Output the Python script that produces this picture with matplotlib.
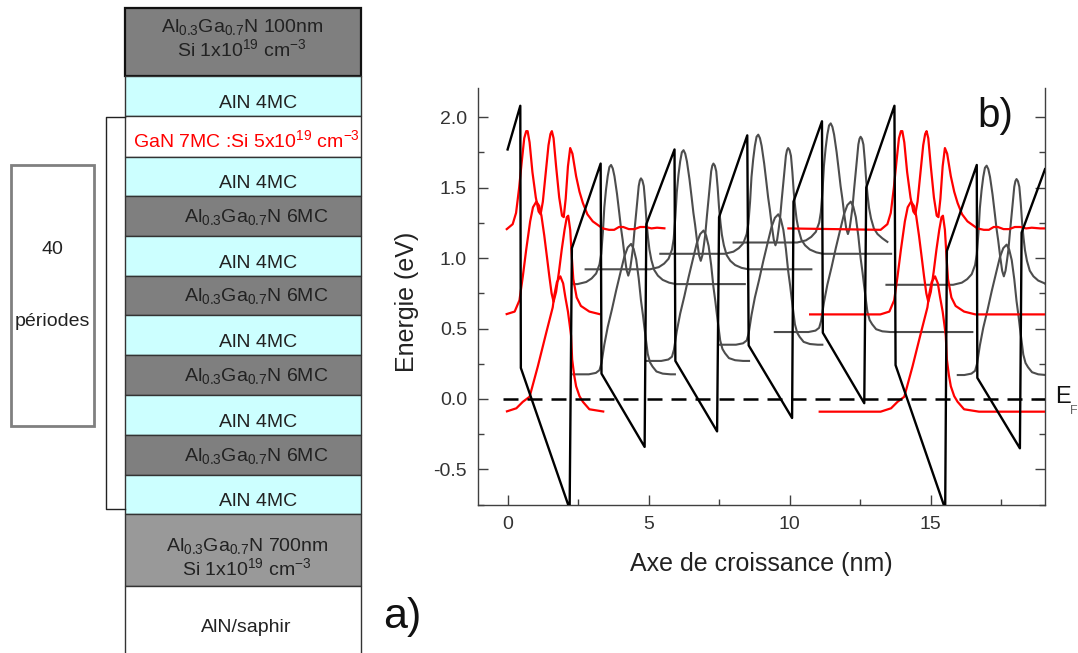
import numpy as np
import matplotlib
matplotlib.use('Agg')
import matplotlib.pyplot as plt
from matplotlib.patches import Rectangle
from matplotlib.ticker import MultipleLocator, FuncFormatter

plt.rcParams['font.family'] = ['Liberation Sans', 'DejaVu Sans']
plt.rcParams['mathtext.fontset'] = 'custom'
plt.rcParams['mathtext.rm'] = 'Liberation Sans'
plt.rcParams['mathtext.it'] = 'Liberation Sans:italic'
plt.rcParams['mathtext.bf'] = 'Liberation Sans:bold'
plt.rcParams['axes.unicode_minus'] = False

# ---------------- data: panel a (layer stack, top -> bottom) ----------------
layer_labels = [
    ['Al$_{0.3}$Ga$_{0.7}$N 100nm', 'Si 1x10$^{19}$ cm$^{-3}$'],
    ['AlN 4MC'],
    ['GaN 7MC :Si 5x10$^{19}$ cm$^{-3}$'],
    ['AlN 4MC'],
    ['Al$_{0.3}$Ga$_{0.7}$N 6MC'],
    ['AlN 4MC'],
    ['Al$_{0.3}$Ga$_{0.7}$N 6MC'],
    ['AlN 4MC'],
    ['Al$_{0.3}$Ga$_{0.7}$N 6MC'],
    ['AlN 4MC'],
    ['Al$_{0.3}$Ga$_{0.7}$N 6MC'],
    ['AlN 4MC'],
    ['Al$_{0.3}$Ga$_{0.7}$N 700nm', 'Si 1x10$^{19}$ cm$^{-3}$'],
    ['AlN/saphir'],
]
layer_kinds = ['cap', 'aln', 'gan', 'aln', 'algan', 'aln', 'algan', 'aln',
               'algan', 'aln', 'algan', 'aln', 'buffer', 'sub']
period_count = '40'
period_word = 'périodes'

# ---------------- data: panel b (conduction band profile) ----------------
band_x = [0.0, 0.45, 0.47, 2.20, 2.28, 3.30, 3.33, 4.86, 4.92, 5.92, 5.95, 7.43,
          7.50, 8.50, 8.55, 10.09, 10.14, 11.15, 11.18, 12.65, 12.72, 13.72,
          13.76, 15.52, 15.58, 16.64, 16.66, 18.17, 18.23, 19.06]
band_y = [1.77, 2.08, 0.22, -0.78, 1.07, 1.67, 0.18, -0.34, 1.24, 1.77, 0.27, -0.23,
          1.29, 1.87, 0.38, -0.135, 1.40, 1.97, 0.47, -0.03, 1.50, 2.08,
          0.24, -0.78, 1.05, 1.66, 0.15, -0.35, 1.18, 1.63]
fermi_x = [-0.15, 19.06]
fermi_y = [0.0, 0.0]

# GaN-well states (red), traced in the first well
red_E = [-0.09, 0.60, 1.21]
red_L1_x = [-0.06, 0.31, 0.54, 0.78, 1.07, 1.37, 1.6, 1.66, 1.75, 1.87, 1.97, 2.05,
            2.14, 2.2, 2.25, 2.29, 2.36, 2.43, 2.55, 2.67, 2.9, 3.43]
red_L1_y = [-0.09, -0.066, -0.02, 0.016, 0.23, 0.47, 0.65, 0.74, 0.83, 0.87, 0.82, 0.72,
            0.62, 0.53, 0.45, 0.28, 0.17, 0.09, 0.02, -0.02, -0.073, -0.09]
red_L2_x = [-0.07, 0.25, 0.42, 0.54, 0.66, 0.8, 0.9, 1.02, 1.12, 1.2, 1.3, 1.4, 1.48,
            1.56, 1.63, 1.72, 1.82, 1.92, 2.02, 2.1, 2.15, 2.22, 2.28, 2.33, 2.45,
            2.6, 2.9, 3.3]
red_L2_y = [0.60, 0.62, 0.70, 0.87, 1.06, 1.26, 1.36, 1.40, 1.37, 1.30, 1.16, 1.00, 0.87,
            0.75, 0.69, 0.76, 0.90, 1.06, 1.20, 1.29, 1.30, 1.20, 1.00, 0.85, 0.72,
            0.66, 0.62, 0.60]
red_L3_x = [-0.06, 0.18, 0.3, 0.41, 0.5, 0.59, 0.66, 0.71, 0.78, 0.88, 1.0, 1.1, 1.17,
            1.25, 1.35, 1.45, 1.52, 1.57, 1.63, 1.72, 1.83, 1.93, 1.99, 2.06, 2.14,
            2.22, 2.3, 2.43, 2.55, 2.67, 2.83, 3.02, 3.37, 3.6, 3.78, 3.95, 4.1, 4.3,
            4.5, 4.7, 4.9, 5.1, 5.3, 5.6]
red_L3_y = [1.20, 1.24, 1.32, 1.50, 1.68, 1.85, 1.90, 1.90, 1.82, 1.61, 1.43, 1.33, 1.31,
            1.40, 1.60, 1.80, 1.88, 1.90, 1.85, 1.65, 1.43, 1.30, 1.29, 1.42, 1.65,
            1.78, 1.74, 1.58, 1.47, 1.39, 1.31, 1.26, 1.21, 1.20, 1.20, 1.22, 1.22,
            1.205, 1.205, 1.22, 1.22, 1.21, 1.215, 1.21]
red_shift = [0.0, 13.29]
red_left = [[-0.06, -0.07, -0.06], [11.03, 10.69, 9.92]]
red_right = [[3.43, 3.3, 5.6], [19.1, 19.1, 19.1]]

# AlGaN-well states (grey): traced shapes relative to the well's right edge
gnd_dx = [-2.0, -1.75, -1.62, -1.55, -1.45, -1.33, -1.18, -1.03, -0.88, -0.74, -0.62,
          -0.50, -0.41, -0.32, -0.23, -0.15, -0.08, -0.03, 0.03, 0.09, 0.17, 0.26,
          0.4, 0.62, 0.9]
gnd_amp = [0.0, 0.01, 0.03, 0.08, 0.21, 0.335, 0.46, 0.595, 0.72, 0.835, 0.9,
           0.925, 0.89, 0.815, 0.68, 0.525, 0.42, 0.335, 0.24, 0.145, 0.085, 0.055,
           0.02, 0.005, 0.0]
exc_dx = [-2.4, -2.09, -1.9, -1.74, -1.62, -1.56, -1.50, -1.45, -1.39, -1.33, -1.27,
          -1.21, -1.15, -1.09, -1.0, -0.92, -0.86, -0.8, -0.73, -0.66, -0.6, -0.54,
          -0.49, -0.44, -0.38, -0.32, -0.27, -0.23, -0.19, -0.15, -0.10, -0.05, 0.0,
          0.05, 0.10, 0.15, 0.22, 0.32, 0.45, 0.62, 0.85, 1.09]
exc_amp = [0.0, 0.015, 0.04, 0.075, 0.14, 0.215, 0.37, 0.545, 0.67, 0.765, 0.83,
           0.845, 0.82, 0.765, 0.64, 0.505, 0.40, 0.315, 0.2, 0.10, 0.06, 0.1,
           0.17, 0.245, 0.38, 0.505, 0.61, 0.695, 0.735, 0.75, 0.735, 0.695, 0.58,
           0.435, 0.33, 0.245, 0.17, 0.10, 0.06, 0.03, 0.01, 0.0]
algan_right = [4.88, 7.45, 10.1, 12.67, 18.2]
E0 = [0.175, 0.27, 0.385, 0.475, 0.17]
E0_ext = [(2.29, 5.97), (4.9, 8.6), (7.45, 11.2), (9.44, 16.52), (15.93, 19.1)]
E1 = [0.815, 0.92, 1.03, 1.11, 0.81]
E1_ext = [(2.3, 8.45), (2.73, 10.81), (5.38, 13.64), (7.98, 13.5), (13.4, 19.1)]

xticks = [0, 5, 10, 15]
yticks = [-0.5, 0.0, 0.5, 1.0, 1.5, 2.0]

# ---------------- figure ----------------
W, H = 1078, 653
fig = plt.figure(figsize=(W / 100, H / 100), dpi=100)

# overlay in pixel coordinates for panel a and outside labels
axa = fig.add_axes([0, 0, 1, 1])
axa.set_xlim(0, W)
axa.set_ylim(H, 0)
axa.axis('off')

layer_edges = [8, 76, 116, 157, 196, 236, 276, 315, 355, 395, 435, 475, 514, 586, 662]
fills = {'cap': '#7f7f7f', 'aln': '#ccffff', 'gan': '#ffffff', 'algan': '#7f7f7f',
         'buffer': '#999999', 'sub': '#ffffff'}
label_xc = {'cap': 242, 'aln': 258, 'gan': 246, 'algan': 256, 'buffer': 247, 'sub': 246}
label_frac = {'aln': 0.68, 'gan': 0.58, 'algan': 0.52, 'sub': 0.55}
bx0, bx1 = 125, 361
for i, (lab, kind) in enumerate(zip(layer_labels, layer_kinds)):
    y0, y1 = layer_edges[i], layer_edges[i + 1]
    lw = 1.6 if kind == 'cap' else 1.0
    ec = '#111111' if kind == 'cap' else '#333333'
    axa.add_patch(Rectangle((bx0, y0), bx1 - bx0, y1 - y0, facecolor=fills[kind],
                            edgecolor=ec, lw=lw, zorder=1))
    col = '#ff0000' if kind == 'gan' else '#222222'
    if len(lab) == 2:
        ys = [y0 + 0.28 * (y1 - y0), y0 + 0.60 * (y1 - y0)] if kind == 'cap' else \
             [y0 + 0.45 * (y1 - y0), y0 + 0.75 * (y1 - y0)]
        for t, yy in zip(lab, ys):
            axa.text(label_xc[kind], yy, t, ha='center', va='center', fontsize=14,
                     color=col, zorder=3)
    else:
        axa.text(label_xc[kind], y0 + label_frac[kind] * (y1 - y0), lab[0], ha='center',
                 va='center', fontsize=14, color=col, zorder=3)

# bracket for the repeated period
axa.plot([125, 106, 106, 125], [117, 117, 509, 509], color='#222222', lw=1.0, zorder=2)
# "40 périodes" box
axa.add_patch(Rectangle((11, 165), 83, 261, facecolor='white', edgecolor='#808080',
                        lw=2.0, zorder=1))
axa.text(52, 249, period_count, ha='center', va='center', fontsize=14, color='#222222')
axa.text(52, 322, period_word, ha='center', va='center', fontsize=14, color='#222222')
axa.text(383, 628, 'a)', ha='left', va='baseline', fontsize=31, color='#111111')
axa.text(1055, 403, 'E', ha='left', va='baseline', fontsize=17, color='#111111')
axa.text(1070, 414, 'F', ha='left', va='baseline', fontsize=9, color='#666666')

# ---------------- panel b ----------------
ax = fig.add_axes([478 / W, 1 - 505 / H, (1045 - 478) / W, (505 - 88) / H])
ax.set_facecolor('none')
ax.set_xlim(-1.05, 19.06)
ax.set_ylim(-0.752, 2.206)

gray = '#4d4d4d'


def build(tx, ty, E, lo, hi):
    xs, ys = [], []
    for a, b in zip(tx, ty):
        if lo <= a <= hi:
            xs.append(a)
            ys.append(b)
    if not xs or lo < xs[0]:
        xs.insert(0, lo)
        ys.insert(0, E)
    if hi > xs[-1]:
        xs.append(hi)
        ys.append(E)
    return xs, ys


for xr, e0, (l0, r0), e1, (l1, r1) in zip(algan_right, E0, E0_ext, E1, E1_ext):
    gx, gy = build([xr + d for d in gnd_dx], [e0 + a for a in gnd_amp], e0, l0, r0)
    ax.plot(gx, gy, color=gray, lw=1.5, zorder=2, solid_capstyle='butt')
    ex, ey = build([xr + d for d in exc_dx], [e1 + a for a in exc_amp], e1, l1, r1)
    ax.plot(ex, ey, color=gray, lw=1.5, zorder=2, solid_capstyle='butt')

red_tx = [red_L1_x, red_L2_x, red_L3_x]
red_ty = [red_L1_y, red_L2_y, red_L3_y]
for w, s in enumerate(red_shift):
    for k in range(3):
        rx, ry = build([s + v for v in red_tx[k]], red_ty[k], red_E[k],
                       red_left[w][k], red_right[w][k])
        ax.plot(rx, ry, color='#ff0000', lw=1.6, zorder=3, solid_capstyle='butt')

ax.plot(fermi_x, fermi_y, color='black', lw=1.8, dashes=(6, 3.6), zorder=4)
ax.plot(band_x, band_y, color='black', lw=1.7, zorder=5)

ax.spines['top'].set_visible(False)
for sp in ['left', 'right', 'bottom']:
    ax.spines[sp].set_color('#404040')
    ax.spines[sp].set_linewidth(1.0)
ax.set_xticks(xticks)
ax.set_yticks(yticks)
ax.xaxis.set_minor_locator(MultipleLocator(2.5))
ax.yaxis.set_minor_locator(MultipleLocator(0.25))
ax.yaxis.set_major_formatter(FuncFormatter(lambda v, p: f'{v:.1f}'))
ax.tick_params(which='both', direction='in', top=False, right=True, labelright=False,
               color='#404040', labelcolor='#333333', labelsize=14)
ax.tick_params(which='major', length=7, width=1.0, pad=8)
ax.tick_params(which='minor', length=4.5, width=1.0)
ax.set_xlabel('Axe de croissance (nm)', fontsize=18, color='#222222')
ax.set_ylabel('Energie (eV)', fontsize=18, color='#222222')
ax.xaxis.set_label_coords(0.5, -0.113)
ax.yaxis.set_label_coords(-0.104, 0.487)
ax.text((977 - 478) / 567, (505 - 127) / 417, 'b)', transform=ax.transAxes,
        ha='left', va='baseline', fontsize=29, color='#111111')

fig.savefig('out.png', dpi=100)
